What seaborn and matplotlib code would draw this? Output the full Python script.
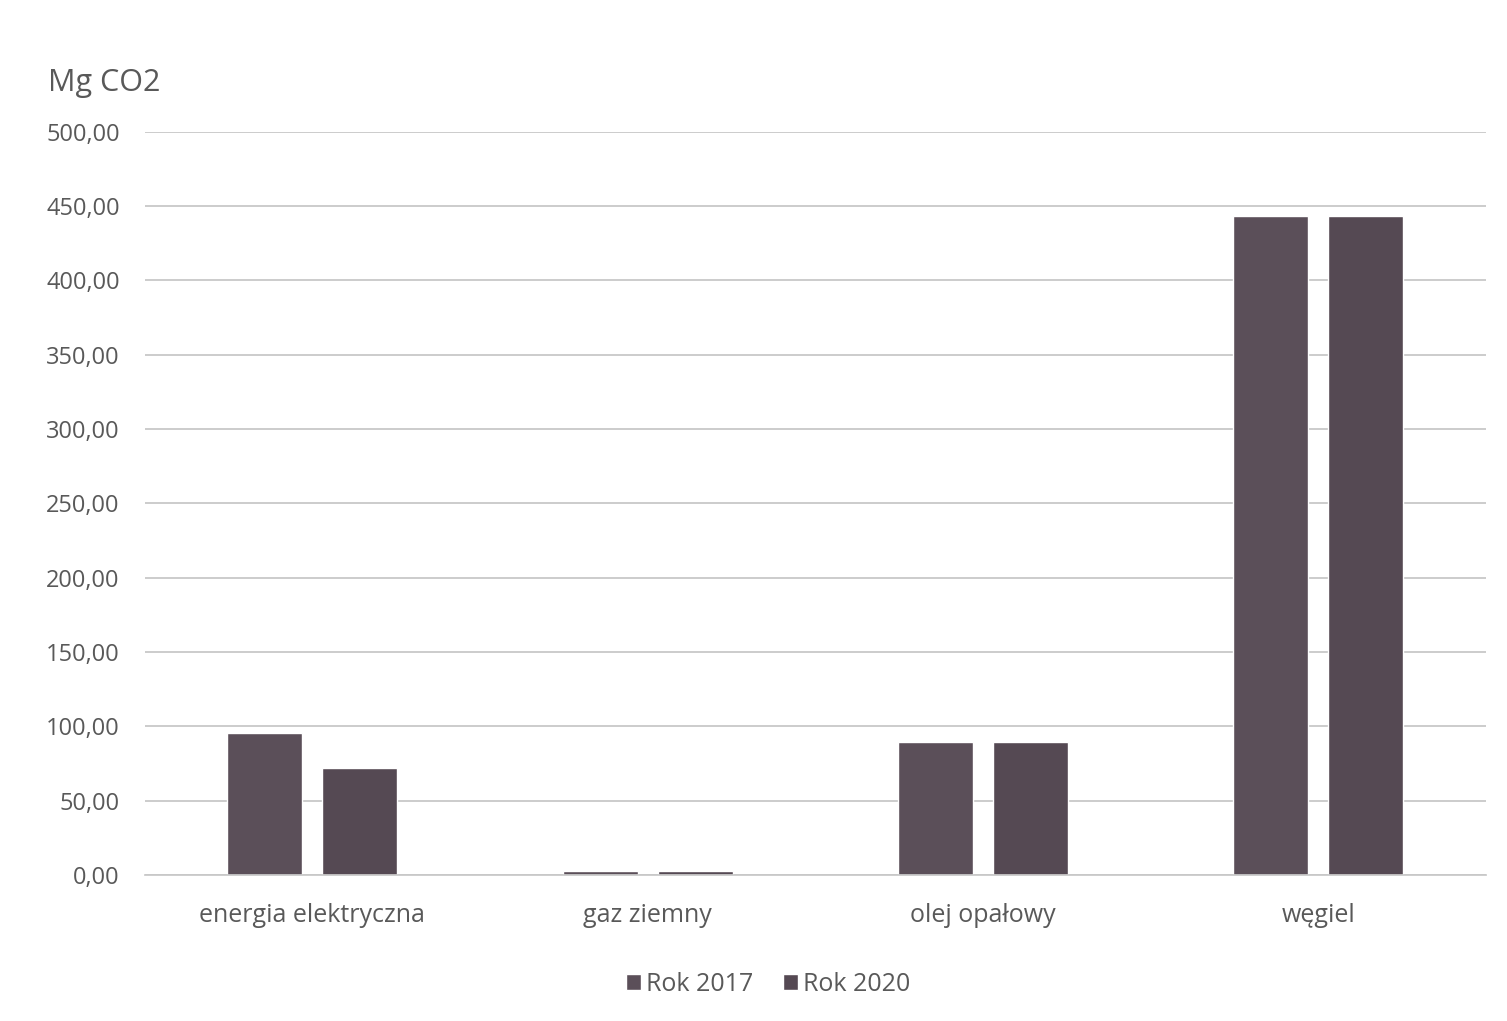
import pandas as pd
import matplotlib.pyplot as plt
import seaborn as sns
from matplotlib.ticker import FuncFormatter

# data
categories = ["energia elektryczna", "gaz ziemny", "olej opałowy", "węgiel"]
rok_2017 = [95.5, 2.5, 89.5, 443.0]
rok_2020 = [72.0, 2.5, 89.5, 443.0]
series = ["Rok 2017", "Rok 2020"]
y_ticks = [0, 50, 100, 150, 200, 250, 300, 350, 400, 450, 500]

df = pd.DataFrame({
    "kategoria": categories * 2,
    "wartosc": rok_2017 + rok_2020,
    "seria": [series[0]] * 4 + [series[1]] * 4,
})

sns.set_theme(style="white")
plt.rcParams["font.family"] = ["Open Sans", "DejaVu Sans"]

fig = plt.figure(figsize=(15.07, 10.21), dpi=100)
ax = fig.add_axes([0.096, 0.143, 0.89, 0.728])

sns.barplot(data=df, x="kategoria", y="wartosc", hue="seria",
            palette=["#5b4f59", "#554953"], width=0.567, gap=0.21,
            saturation=1, ax=ax, legend=True)

ax.set_ylim(0, 500)
ax.set_yticks(y_ticks)
ax.yaxis.set_major_formatter(FuncFormatter(lambda v, p: f"{v:.2f}".replace(".", ",")))
ax.set_xlim(-0.5, 3.5)
ax.grid(axis="y", color="#c8c8c8", linewidth=1.3)
ax.set_axisbelow(True)
for s in ["top", "right", "left"]:
    ax.spines[s].set_visible(False)
ax.spines["bottom"].set_color("#c8c8c8")
ax.tick_params(axis="y", length=0, labelsize=17, labelcolor="#595959", pad=18)
ax.tick_params(axis="x", length=0, labelsize=18, labelcolor="#595959", pad=20)
ax.set_xlabel("")
ax.set_ylabel("")

fig.text(0.032, 0.919, "Mg CO2", fontsize=22, color="#595959", va="center")

ax.legend(loc="upper center", bbox_to_anchor=(0.465, -0.1), ncol=2, frameon=False,
          fontsize=18, labelcolor="#595959", handlelength=0.6, handleheight=0.6,
          handletextpad=0.2, columnspacing=1.2)

fig.savefig("out.png", dpi=100, facecolor="white")
